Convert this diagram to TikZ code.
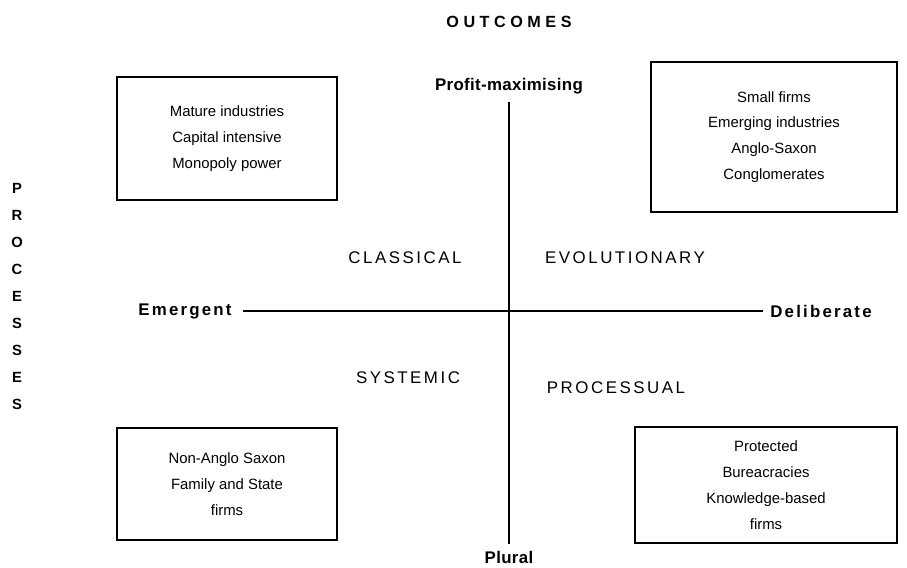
\documentclass[tikz,border=0pt]{standalone}
\usepackage{fontspec}
\setmainfont{Liberation Sans}
\newfontfamily\capsfont[LetterSpace=15]{Liberation Sans}
\newfontfamily\headfont[LetterSpace=28]{Liberation Sans}
\newfontfamily\axisfont[LetterSpace=2]{Liberation Sans}
\newfontfamily\sidefont[LetterSpace=13]{Liberation Sans}
\usepackage{tikz}
\usetikzlibrary{positioning}

\begin{document}
\begin{tikzpicture}[x=0.025cm, y=-0.025cm,
      box/.style={draw, line width=0.9pt, align=center, inner sep=0pt, font=\fontsize{10.6}{18.4}\selectfont},
      quad/.style={font=\capsfont\fontsize{12}{14}\selectfont},
      head/.style={font=\headfont\bfseries\fontsize{11.5}{19.2}\selectfont, align=center},
      axis/.style={font=\axisfont\bfseries\fontsize{12}{14}\selectfont},
      side/.style={font=\sidefont\bfseries\fontsize{12}{14}\selectfont},
      axisline/.style={line width=0.9pt},
    ]
    \useasboundingbox (0,0) rectangle (907,567);

    \node[head] (outcomes) at (509,22) {OUTCOMES};
    \node[head, font=\axisfont\bfseries\fontsize{10.5}{19.2}\selectfont] (processes) at (17,296)
      {P\\R\\O\\C\\E\\S\\S\\E\\S};

    \node[axis] (profit) at (509,86) {Profit-maximising};
    \node[axis] (plural) at (509,557) {Plural};
    \node[side] (emergent) at (185,311) {Emergent};
    \node[side] (deliberate) at (821,311) {Deliberate};

    \node[quad] (classical) at (405,258) {CLASSICAL};
    \node[quad] (evolutionary) at (625,258) {EVOLUTIONARY};
    \node[quad] (systemic) at (408,378) {SYSTEMIC};
    \node[quad] (processual) at (616,388) {PROCESSUAL};

    \node[box, minimum width=5.5cm, minimum height=3.075cm] (mature) at (227,138.5)
      {Mature industries\\Capital intensive\\Monopoly power};
    \node[box, minimum width=6.15cm, minimum height=3.75cm] (small) at (774,137)
      {Small firms\\Emerging industries\\Anglo-Saxon\\Conglomerates};
    \node[box, minimum width=5.5cm, minimum height=2.8cm] (nonanglo) at (227,484)
      {Non-Anglo Saxon\\Family and State\\firms};
    \node[box, minimum width=6.55cm, minimum height=2.9cm] (protected) at (766,485)
      {Protected\\Bureacracies\\Knowledge-based\\firms};

    \draw[axisline, shorten <=4.5pt, shorten >=1.5pt] (emergent) -- (deliberate);
    \draw[axisline, shorten <=2pt, shorten >=1pt] (profit) -- (plural);
  \end{tikzpicture}
\end{document}
